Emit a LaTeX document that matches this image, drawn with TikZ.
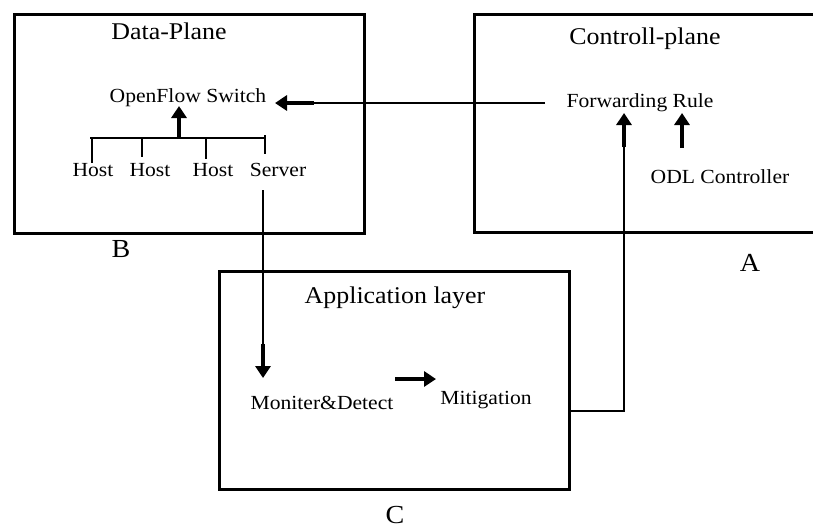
\documentclass[tikz,border=0pt]{standalone}
\usepackage{fontspec}
\setmainfont[FakeStretch=1.08]{Liberation Serif}
\usetikzlibrary{arrows.meta}

\tikzset{
  layer/.style={draw=black, line width=3pt, fill=none},
  title/.style={font=\fontsize{24}{28}\selectfont, inner sep=0pt},
  item/.style={font=\fontsize{20}{24}\selectfont, inner sep=0pt},
  letter/.style={font=\fontsize{26}{30}\selectfont, inner sep=0pt},
  wire/.style={line width=1.4pt},
  bigarrow/.style={line width=4pt, -{Triangle[width=15pt,length=12pt]}},
}

\begin{document}
\begin{tikzpicture}[x=1pt, y=-1pt]
\useasboundingbox (0,0) rectangle (813,531);

% the three layer boxes
\draw[layer] (14,14) rectangle (364,233);
\draw[layer] (474,14) rectangle (815,232);
\draw[layer] (219,271) rectangle (569,489);

% titles and layer letters
\node[title] (dptitle) at (169,31) {Data-Plane};
\node[title] (cptitle) at (645,39) {Controll-plane};
\node[title] (altitle) at (395,298) {Application layer};
\node[letter] (lb) at (121,249) {B};
\node[letter] (la) at (750,263) {A};
\node[letter] (lc) at (395,515) {C};

% data plane contents
\node[item] (ofs) at (188,98) {OpenFlow Switch};
\node[item] (h1) at (93,170) {Host};
\node[item] (h2) at (150,170) {Host};
\node[item] (h3) at (213,170) {Host};
\node[item] (srv) at (278,170) {Server};

% control plane contents
\node[item] (fw) at (640,103) {Forwarding Rule};
\node[item] (odl) at (720,177) {ODL Controller};

% application layer contents
\node[item] (md) at (322,403) {Moniter\&Detect};
\node[item] (mit) at (486,400) {Mitigation};

% bus joining hosts and server
\coordinate (busl) at (90,138);
\coordinate (busr) at (266,138);
\coordinate (busm) at (179,138);
\draw[wire] (busl) -- (busr);
\draw[wire] (92,138) -- (h1.north -| 92,0);
\draw[wire] (142,138) -- (142,157);
\draw[wire] (206,138) -- (206,159);
\draw[wire] (265,135) -- (265,154);
\coordinate (ofsin) at (179,106);
\draw[bigarrow] (busm) -- (ofsin);

% forwarding rule to switch
\coordinate (fwout) at (545,103);
\coordinate (fwk) at (314,103);
\coordinate (ofsr) at (275,103);
\draw[wire] (fwout) -- (fwk);
\draw[bigarrow] (fwk) -- (ofsr);

% server to monitor
\coordinate (srvout) at (263,190);
\coordinate (srvk) at (263,344);
\coordinate (mdin) at (263,378);
\draw[wire] (srvout) -- (srvk);
\draw[bigarrow] (srvk) -- (mdin);

% monitor to mitigation
\coordinate (mda) at (395,379);
\coordinate (mitin) at (436,379);
\draw[bigarrow] (mda) -- (mitin);

% mitigation back to forwarding rule
\coordinate (alout) at (569,411);
\coordinate (corner) at (624,411);
\coordinate (fwk2) at (624,147);
\coordinate (fwin) at (624,113);
\draw[wire] (alout) -- (corner) -- (fwk2);
\draw[bigarrow] (fwk2) -- (fwin);

% controller to forwarding rule
\coordinate (odlout) at (682,148);
\coordinate (fwin2) at (682,113);
\draw[bigarrow] (odlout) -- (fwin2);
\end{tikzpicture}
\end{document}
